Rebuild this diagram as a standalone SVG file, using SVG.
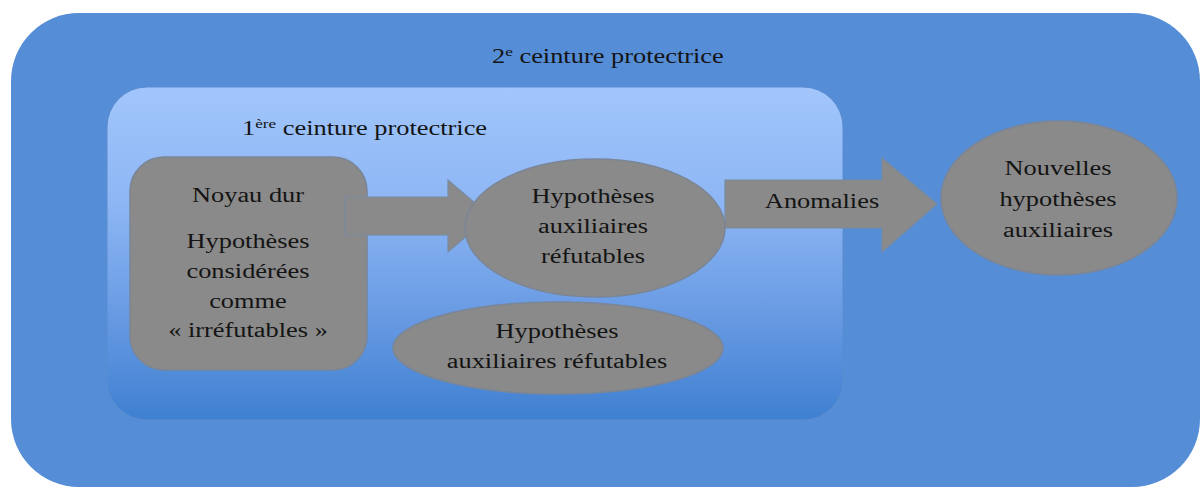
<svg xmlns="http://www.w3.org/2000/svg" width="1201" height="488" viewBox="0 0 1201 488">
  <defs>
    <linearGradient id="innerGrad" x1="0" y1="0" x2="0" y2="1">
      <stop offset="0" stop-color="#a2c6fc"/>
      <stop offset="0.35" stop-color="#8db6f4"/>
      <stop offset="0.7" stop-color="#6699e2"/>
      <stop offset="1" stop-color="#3f80d1"/>
    </linearGradient>
  </defs>
  <style>
    .t { font-family: "Liberation Serif", "Times New Roman", serif; font-size: 20px; fill: #141414; }
    .c { text-anchor: middle; }
    .shape { fill: #8a8a8a; stroke: #7a8596; stroke-width: 1.5; }
    .arrow { fill: #8a8a8a; stroke: #7a8a9e; stroke-width: 1.2; }
  </style>
  <rect width="1201" height="488" fill="#ffffff"/>

  <g id="belt2">
    <rect x="11" y="13" width="1189" height="474" rx="68" ry="68" fill="#558dd6"/>
    <text class="t" transform="translate(492,63) scale(1.32,1)">2<tspan font-size="13" dy="-7">e</tspan><tspan dy="7"> ceinture protectrice</tspan></text>
  </g>

  <g id="belt1">
    <rect x="107" y="87" width="736" height="333" rx="40" ry="40" fill="url(#innerGrad)" stroke="#5a8ccf" stroke-width="1"/>
    <text class="t" transform="translate(242,135) scale(1.32,1)">1<tspan font-size="13" dy="-7">ère</tspan><tspan dy="7"> ceinture protectrice</tspan></text>
  </g>

  <g id="noyau">
    <rect class="shape" x="130" y="157" width="237" height="213" rx="34" ry="34"/>
    <text class="t c" transform="translate(248,202) scale(1.32,1)"><tspan x="0" y="0">Noyau dur</tspan><tspan x="0" y="46">Hypothèses</tspan><tspan x="0" y="76">considérées</tspan><tspan x="0" y="106">comme</tspan><tspan x="0" y="135">« irréfutables »</tspan></text>
  </g>

  <g id="connectors">
    <polygon id="arrow1" class="arrow" points="345,197 448,197 448,180 490,216 448,252 448,235 345,235"/>
    <g id="anomalies">
      <polygon class="arrow" points="725,180 882,180 882,158 937,204 882,252 882,228 725,228"/>
      <text class="t c" transform="translate(822,208) scale(1.32,1)">Anomalies</text>
    </g>
  </g>

  <g id="hyp1">
    <ellipse class="shape" cx="595" cy="228" rx="130" ry="69"/>
    <text class="t c" transform="translate(593,203) scale(1.32,1)"><tspan x="0" y="0">Hypothèses</tspan><tspan x="0" y="30">auxiliaires</tspan><tspan x="0" y="60">réfutables</tspan></text>
  </g>

  <g id="hyp2">
    <ellipse class="shape" cx="558" cy="348" rx="165" ry="46"/>
    <text class="t c" transform="translate(557,338) scale(1.32,1)"><tspan x="0" y="0">Hypothèses</tspan><tspan x="0" y="30">auxiliaires réfutables</tspan></text>
  </g>

  <g id="nouvelles">
    <ellipse class="shape" cx="1059" cy="198" rx="118" ry="77"/>
    <text class="t c" transform="translate(1058,175) scale(1.32,1)"><tspan x="0" y="0">Nouvelles</tspan><tspan x="0" y="31">hypothèses</tspan><tspan x="0" y="62">auxiliaires</tspan></text>
  </g>
</svg>
